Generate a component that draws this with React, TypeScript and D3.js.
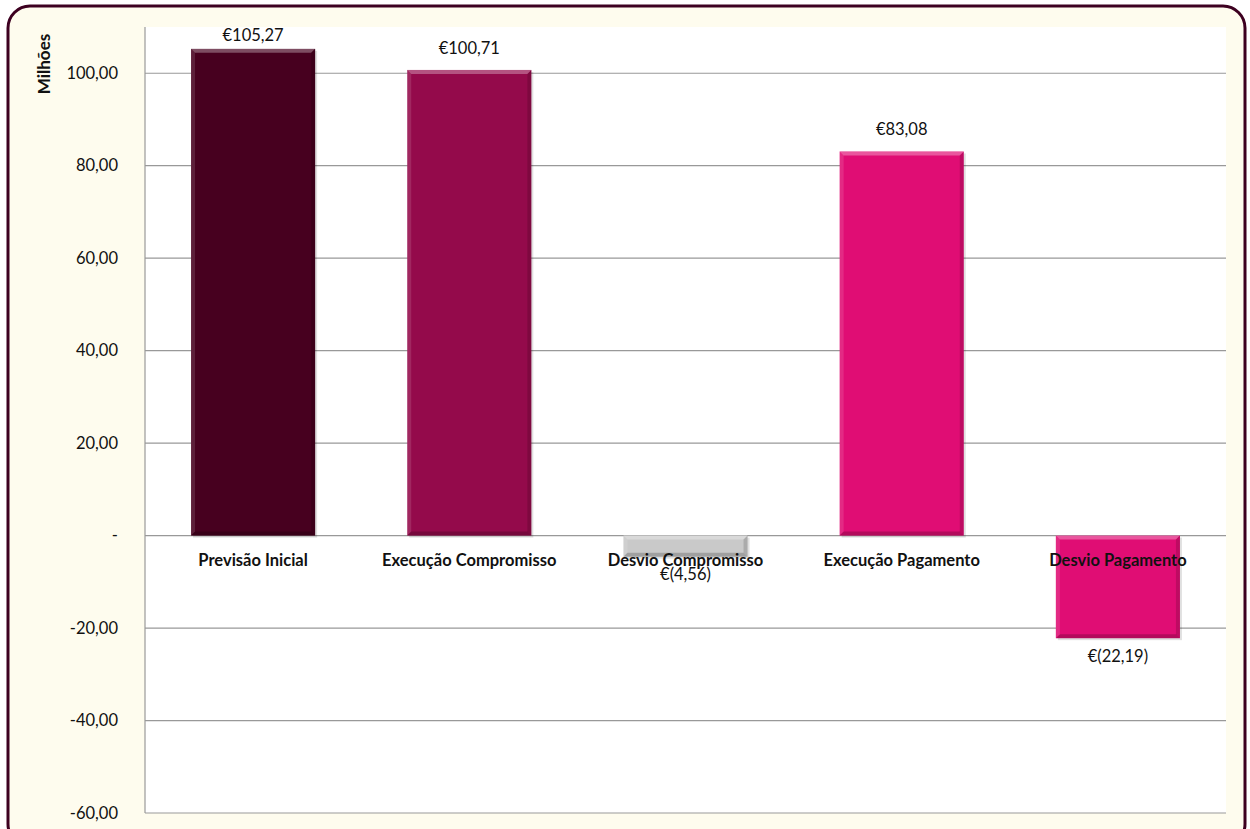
import React from "react";
import * as d3 from "d3";

const categories = ["Previsão Inicial", "Execução Compromisso", "Desvio Compromisso", "Execução Pagamento", "Desvio Pagamento"];
const values = [105.27, 100.71, -4.56, 83.08, -22.19];
const barColors = ["#47001f", "#940a4b", "#c9c9c9", "#e00d74", "#e00d74"];
const yTicks = [-60, -40, -20, 0, 20, 40, 60, 80, 100];

const W = 1250, H = 829;
const plot = { left: 145, right: 1226, top: 27, bottom: 813 };

const fmtTick = (v: number) => (v === 0 ? "-" : d3.format(",.2f")(v).replace(".", ",").replace("−", "-"));
const fmtVal = (v: number) => {
  const s = d3.format(".2f")(Math.abs(v)).replace(".", ",");
  return v < 0 ? `€(${s})` : `€${s}`;
};

export default function App() {
  const x = d3.scaleBand<string>().domain(categories).range([plot.left, plot.right]).paddingInner(0.426).paddingOuter(0.213);
  const y = d3.scaleLinear().domain([-60, 110]).range([plot.bottom, plot.top]);
  const font = "Lato, 'Open Sans', sans-serif";
  const b = 4;
  return (
    <svg width={W} height={H} style={{ position: "absolute", left: 0, top: 0 }}>
      <rect x={0} y={0} width={W} height={H} fill="#ffffff" />
      <rect x={8} y={6} width={1237} height={840} rx={22} ry={22} fill="#fefcee" stroke="#3d0020" strokeWidth={3} />
      <rect x={plot.left} y={plot.top} width={plot.right - plot.left} height={plot.bottom - plot.top} fill="#ffffff" />
      {yTicks.map((t) => (
        <g key={t}>
          <line x1={plot.left} x2={plot.right} y1={y(t)} y2={y(t)} stroke="#999" strokeWidth={1.2} />
          <text x={118} y={y(t)} dy="0.35em" textAnchor="end" fontFamily={font} fontSize={16.5} fill="#111">
            {fmtTick(t)}
          </text>
        </g>
      ))}
      <line x1={plot.left} x2={plot.left} y1={plot.top} y2={plot.bottom} stroke="#999" strokeWidth={1.2} />
      <text transform={`translate(50,${64}) rotate(-90)`} textAnchor="middle" fontFamily={font} fontWeight="bold" fontSize={17} fill="#111">
        Milhões
      </text>
      {categories.map((c, i) => {
        const v = values[i];
        const bx = x(c)!;
        const bw = x.bandwidth();
        const y0 = y(Math.max(0, v));
        const h = Math.abs(y(v) - y(0));
        return (
          <g key={c}>
            <rect x={bx + 2} y={y0 + 2} width={bw} height={h} fill="#000" opacity={0.12} />
            <rect x={bx} y={y0} width={bw} height={h} fill={barColors[i]} />
            <polygon points={`${bx},${y0} ${bx + bw},${y0} ${bx + bw - b},${y0 + b} ${bx + b},${y0 + b}`} fill="#fff" opacity={0.3} />
            <polygon points={`${bx},${y0} ${bx + b},${y0 + b} ${bx + b},${y0 + h - b} ${bx},${y0 + h}`} fill="#fff" opacity={0.12} />
            <polygon points={`${bx + bw},${y0} ${bx + bw - b},${y0 + b} ${bx + bw - b},${y0 + h - b} ${bx + bw},${y0 + h}`} fill="#000" opacity={0.15} />
            <polygon points={`${bx},${y0 + h} ${bx + b},${y0 + h - b} ${bx + bw - b},${y0 + h - b} ${bx + bw},${y0 + h}`} fill="#000" opacity={0.2} />
          </g>
        );
      })}
      {categories.map((c) => (
        <text key={c} x={x(c)! + x.bandwidth() / 2} y={560} dy="0.35em" textAnchor="middle" fontFamily={font} fontWeight="bold" fontSize={16.5} fill="#111">
          {c}
        </text>
      ))}
      {categories.map((c, i) => {
        const v = values[i];
        const cx = x(c)! + x.bandwidth() / 2;
        const ly = v >= 0 ? Math.max(35, y(v) - 22) : y(v) + 18;
        return (
          <text key={c} x={cx} y={ly} dy="0.35em" textAnchor="middle" fontFamily={font} fontSize={16.5} fill="#111">
            {fmtVal(v)}
          </text>
        );
      })}
    </svg>
  );
}
